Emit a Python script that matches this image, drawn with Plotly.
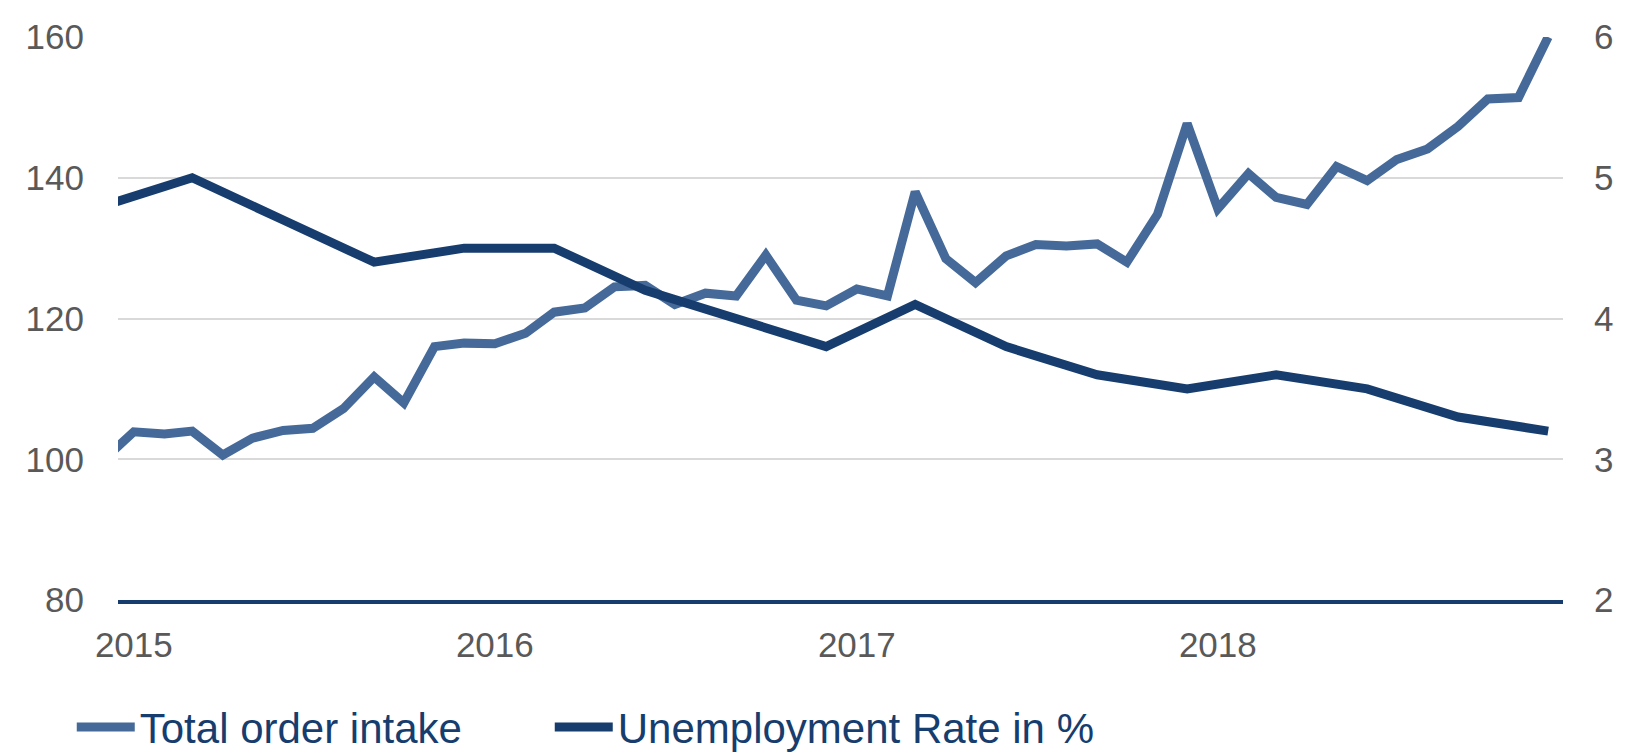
import plotly.graph_objects as go
import pandas as pd

# monthly index, Dec 2014 .. Dec 2018 (Dec 2014 lies just outside the visible range)
months = pd.date_range("2014-12-01", "2018-12-01", freq="MS")
order_intake = [
    99.9,
    103.9, 103.6, 104.0, 100.6, 103.0, 104.1, 104.4, 107.2, 111.7, 108.0, 116.0, 116.5,
    116.4, 117.9, 120.9, 121.5, 124.5, 124.7, 122.0, 123.6, 123.2, 129.0, 122.6, 121.8,
    124.2, 123.2, 138.0, 128.5, 125.1, 128.9, 130.5, 130.3, 130.6, 128.0, 134.8, 147.7,
    135.6, 140.6, 137.2, 136.2, 141.6, 139.6, 142.6, 144.1, 147.3, 151.2, 151.4, 160.0,
]

# quarterly unemployment rate
quarters = pd.date_range("2014-12-01", "2018-12-01", freq="3MS")
unemployment = [4.8, 5.0, 4.7, 4.4, 4.5, 4.5, 4.2, 4.0, 3.8, 4.1, 3.8, 3.6, 3.5, 3.6, 3.5, 3.3, 3.2]

year_ticks = ["2015-01-01", "2016-01-01", "2017-01-01", "2018-01-01"]
year_labels = ["2015", "2016", "2017", "2018"]

LIGHT = "#456a99"
NAVY = "#173d6e"
GREY = "#595959"
FONT = "Liberation Sans"

fig = go.Figure()

fig.add_trace(go.Scatter(
    x=months, y=order_intake, name="Total order intake",
    mode="lines", line=dict(color=LIGHT, width=9),
    legendwidth=405,
))
fig.add_trace(go.Scatter(
    x=quarters, y=unemployment, name="Unemployment Rate in %",
    mode="lines", line=dict(color=NAVY, width=9), yaxis="y2",
    legendwidth=520,
))

fig.update_layout(
    width=1644, height=753,
    template="plotly_white",
    paper_bgcolor="white", plot_bgcolor="white",
    margin=dict(l=110, r=89, t=29, b=161, autoexpand=False),
    font=dict(family=FONT, color=GREY),
    xaxis=dict(
        type="date",
        range=["2014-12-16", "2018-12-16"],
        tickvals=year_ticks, ticktext=year_labels,
        tickfont=dict(size=35, color=GREY),
        ticks="outside", ticklen=11, tickcolor="rgba(0,0,0,0)",
        showgrid=False, zeroline=False, automargin=False,
        showline=True, linecolor=NAVY, linewidth=4,
    ),
    yaxis=dict(
        range=[80, 160], dtick=20,
        tickfont=dict(size=35, color=GREY),
        ticks="outside", ticklen=26, tickcolor="rgba(0,0,0,0)",
        showgrid=True, gridcolor="#d9d9d9", gridwidth=2,
        zeroline=False, showline=False, automargin=False,
    ),
    yaxis2=dict(
        range=[2, 6], dtick=1, overlaying="y", side="right",
        tickfont=dict(size=35, color=GREY),
        ticks="outside", ticklen=23, tickcolor="rgba(0,0,0,0)",
        showgrid=False, zeroline=False, showline=False, automargin=False,
    ),
    legend=dict(
        orientation="h",
        x=-0.032, y=-0.1655, xanchor="left", yanchor="top",
        font=dict(family=FONT, size=42, color=NAVY),
        itemwidth=58,
        bgcolor="rgba(0,0,0,0)",
    ),
    showlegend=True,
)

fig.write_html("out.html")
